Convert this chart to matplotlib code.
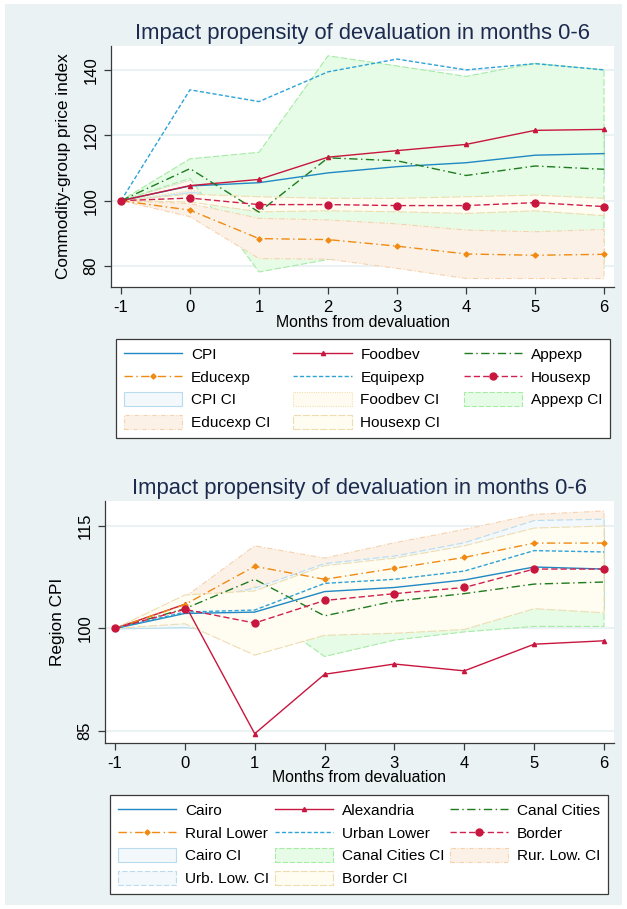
import matplotlib
matplotlib.use('Agg')
import matplotlib.pyplot as plt
from matplotlib.patches import Rectangle

plt.rcParams['font.family'] = ['Liberation Sans', 'DejaVu Sans']

months = [-1, 0, 1, 2, 3, 4, 5, 6]

# top panel: commodity groups
cpi = [100, 104.5, 105.5, 108.5, 110.4, 111.6, 113.9, 114.4]
foodbev = [100, 104.6, 106.5, 113.3, 115.3, 117.2, 121.5, 121.8]
appexp = [100, 109.8, 96.5, 113.1, 112.2, 107.7, 110.6, 109.6]
educexp = [100, 97.1, 88.4, 88.1, 86.1, 83.7, 83.3, 83.6]
equipexp = [100, 133.9, 130.3, 139.4, 143.3, 140.0, 141.9, 140.0]
housexp = [100, 100.8, 98.8, 98.8, 98.5, 98.5, 99.4, 98.2]

cpi_lo = [100, 102.6, 101.5, 103.5, 104.5, 105.0, 107.0, 107.2]
cpi_hi = [100, 106.4, 109.5, 113.5, 116.3, 118.2, 120.8, 121.6]
food_lo = [100, 103.0, 102.5, 107.5, 109.0, 110.5, 114.0, 114.0]
food_hi = [100, 106.2, 110.5, 119.1, 121.6, 123.9, 129.0, 129.6]
app_lo = [100, 106.8, 78.2, 82.0, 83.4, 77.6, 79.4, 79.4]
app_hi = [100, 112.8, 114.8, 144.3, 141.2, 138.0, 142.0, 140.0]
edu_lo = [100, 95.1, 82.3, 82.1, 79.3, 76.2, 76.2, 76.2]
edu_hi = [100, 99.1, 94.6, 94.1, 92.9, 91.0, 90.5, 91.2]
house_lo = [100, 99.6, 96.6, 96.9, 96.6, 96.1, 96.9, 95.4]
house_hi = [100, 102.0, 101.2, 100.7, 100.7, 101.2, 101.7, 100.7]

# bottom panel: regions
cairo = [100, 102.2, 102.4, 105.4, 106.0, 107.1, 109.0, 108.7]
alexandria = [100, 103.55, 84.6, 93.3, 94.8, 93.8, 97.7, 98.2]
canal = [100, 102.9, 107.2, 101.85, 104.0, 105.1, 106.5, 106.8]
rural = [100, 103.5, 109.1, 107.2, 108.8, 110.4, 112.5, 112.5]
urban = [100, 102.4, 102.7, 106.6, 107.2, 108.4, 111.4, 111.2]
border = [100, 102.8, 100.8, 104.1, 105.1, 106.0, 108.7, 108.7]

cairo_lo = [100, 100.2, 99.2, 101.2, 101.5, 102.1, 103.5, 103.0]
cairo_hi = [100, 104.2, 105.6, 109.6, 110.5, 112.1, 114.5, 114.4]
canal_lo = [100, 101.4, 103.2, 95.9, 98.3, 99.5, 100.3, 100.3]
canal_hi = [100, 104.4, 111.2, 107.8, 109.6, 110.7, 112.7, 113.3]
rural_lo = [100, 102.4, 106.1, 104.1, 105.0, 106.3, 108.3, 107.8]
rural_hi = [100, 104.6, 112.1, 110.3, 112.55, 114.5, 116.7, 117.2]
urban_lo = [100, 100.9, 99.5, 103.7, 103.8, 104.25, 107.0, 106.4]
urban_hi = [100, 103.9, 105.9, 109.5, 110.6, 112.55, 115.8, 116.0]
border_lo = [100, 100.7, 96.1, 99.0, 99.3, 99.85, 102.9, 102.3]
border_hi = [100, 104.9, 105.5, 109.2, 110.3, 112.1, 114.7, 115.0]

BG = '#EAF2F3'
BLUE = '#1F88C5'
LBLUE = '#2EA3D8'
RED = '#C8163E'
PINK = '#D02050'
GREEN = '#1E7B1E'
ORANGE = '#F08A12'
TITLE = '#1C2A4E'

fig = plt.figure(figsize=(6.27, 9.09), dpi=100)
fig.patch.set_facecolor('white')
fig.patches.append(Rectangle((5/627, 4/909), 617/627, 901/909, transform=fig.transFigure,
                             facecolor=BG, edgecolor='none', zorder=-10))


def style_axes(ax, xlim, ylim, yticks, ylabel):
    ax.set_facecolor('white')
    ax.set_xlim(xlim)
    ax.set_ylim(ylim)
    ax.set_xticks(months)
    ax.set_xticklabels([str(m) for m in months])
    ax.set_yticks(yticks)
    ax.set_yticklabels([str(t) for t in yticks], rotation=90, va='center')
    ax.grid(axis='y', color=BG, lw=1.5, zorder=0)
    ax.set_axisbelow(True)
    for s in ['top', 'right']:
        ax.spines[s].set_visible(False)
    for s in ['left', 'bottom']:
        ax.spines[s].set_color('#3A3A3A')
        ax.spines[s].set_linewidth(0.9)
    ax.tick_params(length=5, width=0.9, color='#3A3A3A', labelsize=12, pad=4)
    ax.set_xlabel('Months from devaluation', fontsize=11.4, labelpad=0)
    ax.set_ylabel(ylabel, fontsize=12.4, labelpad=9)
    ax.set_title('Impact propensity of devaluation in months 0-6', fontsize=15.8,
                 color=TITLE, pad=5)


def ci(ax, lo, hi, fc, ec, ls):
    return ax.fill_between(months, lo, hi, facecolor=fc, edgecolor=ec, linestyle=ls,
                           linewidth=0.8, zorder=1)


# ---------- top panel ----------
ax1 = fig.add_axes([111/627, 1-287/909, 503/627, 241/909])

c_cpi = ci(ax1, cpi_lo, cpi_hi, '#F2F8FB', '#B8DCEE', '-')
c_food = ci(ax1, food_lo, food_hi, '#FFFBF0', '#F2D9A0', ':')
c_app = ci(ax1, app_lo, app_hi, '#E6FCE6', '#A6EBA6', (0, (6, 2)))
c_edu = ci(ax1, edu_lo, edu_hi, '#FCF1E6', '#F6D2AE', (0, (5, 2, 1, 2)))
c_house = ci(ax1, house_lo, house_hi, '#FFFCF2', '#EEDDB0', (0, (8, 2)))

l_cpi, = ax1.plot(months, cpi, color=BLUE, lw=1.0, zorder=3)
l_food, = ax1.plot(months, foodbev, color=RED, lw=1.0, marker='^', ms=3, zorder=3)
l_app, = ax1.plot(months, appexp, color=GREEN, lw=1.0, dashes=[6, 2.5, 1, 2.5], zorder=3)
l_edu, = ax1.plot(months, educexp, color=ORANGE, lw=1.0, dashes=[6, 2.5, 1, 2.5],
                  marker='D', ms=2.6, zorder=3)
l_equip, = ax1.plot(months, equipexp, color=LBLUE, lw=1.0, dashes=[3, 1.6], zorder=3)
l_house, = ax1.plot(months, housexp, color=PINK, lw=1.0, dashes=[4.5, 2.2],
                    marker='o', ms=5, mfc=RED, mec=RED, zorder=4)

style_axes(ax1, (-1.145, 6.145), (73.6, 147.3), [80, 100, 120, 140],
           'Commodity-group price index')

# legend filled column-wise, so order gives rows: CPI/Foodbev/Appexp, ...
h1 = [l_cpi, l_edu, c_cpi, c_edu, l_food, l_equip, c_food, c_house, l_app, l_house, c_app]
n1 = ['CPI', 'Educexp', 'CPI CI', 'Educexp CI', 'Foodbev', 'Equipexp', 'Foodbev CI',
      'Housexp CI', 'Appexp', 'Housexp', 'Appexp CI']
leg_kw = dict(ncol=3, mode='expand', loc='upper left', fontsize=11.1, frameon=True,
              fancybox=False, edgecolor='#3A3A3A', facecolor='white', framealpha=1,
              handlelength=3.8, handleheight=1.05, handletextpad=0.55,
              labelspacing=0.47, borderpad=0.5, numpoints=1, borderaxespad=0)
lg1 = fig.legend(h1, n1, bbox_to_anchor=(116/627, 1-339/909, 494/627, 0), **leg_kw)
lg1.get_frame().set_linewidth(0.9)

# ---------- bottom panel ----------
ax2 = fig.add_axes([105/627, 1-743/909, 509/627, 242/909])

c_cairo = ci(ax2, cairo_lo, cairo_hi, '#F2F8FB', '#B8DCEE', '-')
c_canal = ci(ax2, canal_lo, canal_hi, '#E6FCE6', '#A6EBA6', (0, (6, 2)))
c_rural = ci(ax2, rural_lo, rural_hi, '#FCF1E6', '#F6D2AE', (0, (5, 2, 1, 2)))
c_urban = ci(ax2, urban_lo, urban_hi, '#F2F8FB', '#B8DCEE', (0, (6, 2.5)))
c_border = ci(ax2, border_lo, border_hi, '#FFFCF2', '#EEDDB0', (0, (8, 2)))

l_cairo, = ax2.plot(months, cairo, color=BLUE, lw=1.0, zorder=3)
l_alex, = ax2.plot(months, alexandria, color=RED, lw=1.0, marker='^', ms=3, zorder=3)
l_canal, = ax2.plot(months, canal, color=GREEN, lw=1.0, dashes=[6, 2.5, 1, 2.5], zorder=3)
l_rural, = ax2.plot(months, rural, color=ORANGE, lw=1.0, dashes=[6, 2.5, 1, 2.5],
                    marker='D', ms=2.6, zorder=3)
l_urban, = ax2.plot(months, urban, color=LBLUE, lw=1.0, dashes=[3, 1.6], zorder=3)
l_border, = ax2.plot(months, border, color=PINK, lw=1.0, dashes=[4.5, 2.2],
                     marker='o', ms=5, mfc=RED, mec=RED, zorder=4)

style_axes(ax2, (-1.143, 6.143), (83.24, 118.66), [85, 100, 115], 'Region CPI')

h2 = [l_cairo, l_rural, c_cairo, c_urban, l_alex, l_urban, c_canal, c_border,
      l_canal, l_border, c_rural]
n2 = ['Cairo', 'Rural Lower', 'Cairo CI', 'Urb. Low. CI', 'Alexandria', 'Urban Lower',
      'Canal Cities CI', 'Border CI', 'Canal Cities', 'Border', 'Rur. Low. CI']
lg2 = fig.legend(h2, n2, bbox_to_anchor=(110/627, 1-795/909, 498/627, 0), **leg_kw)
lg2.get_frame().set_linewidth(0.9)

fig.savefig('out.png', dpi=100, facecolor=fig.get_facecolor())
